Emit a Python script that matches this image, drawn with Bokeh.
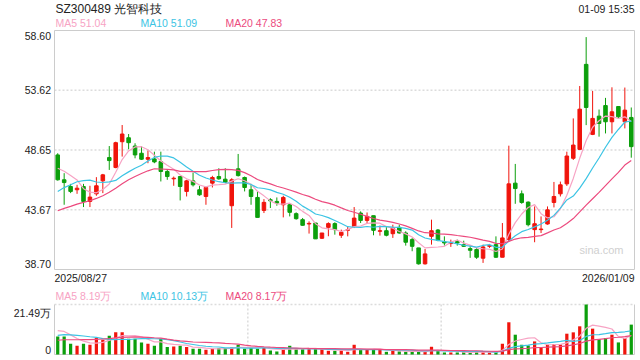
import numpy as np
import pandas as pd
from bokeh.plotting import figure
from bokeh.models import ColumnDataSource, Range1d
from bokeh.core.properties import value
from bokeh.embed import file_html
from bokeh.resources import INLINE

# ---------------- data ----------------
title_text = "SZ300489 光智科技"
time_text = "01-09 15:35"
start_date = "2025/08/27"
end_date = "2026/01/09"
price_ma_labels = ["MA5 51.04", "MA10 51.09", "MA20 47.83"]
vol_ma_labels = ["MA5 8.19万", "MA10 10.13万", "MA20 8.17万"]
price_ticks = [38.70, 43.67, 48.65, 53.62, 58.60]
vol_ticks = [0, 21.49]
vol_tick_labels = ["0", "21.49万"]

opens = [48.24, 46.17, 45.61, 45.34, 45.61, 44.37, 45.00, 46.08, 48.02, 47.19,
         49.34, 49.67, 48.98, 48.38, 47.88, 47.91, 47.69, 46.86, 46.25, 46.44,
         45.20, 46.08, 45.34, 44.78, 45.89, 46.44, 46.22, 44.01, 47.08, 46.36,
         45.34, 44.70, 43.62, 44.51, 44.37, 44.09, 44.09, 43.35, 42.85, 42.49,
         42.57, 41.30, 42.21, 42.52, 41.55, 41.96, 42.29, 43.40, 42.79, 43.18,
         41.88, 41.93, 41.68, 42.21, 41.74, 41.19, 40.50, 39.17, 41.46, 41.99,
         41.00, 40.86, 41.02, 40.77, 40.44, 40.36, 39.64, 40.63, 40.77, 39.72,
         41.19, 45.89, 45.00, 44.31, 42.02, 42.02, 42.49, 44.28, 45.00, 45.83,
         47.96, 48.70, 55.78, 49.95, 51.47, 52.35, 51.00, 52.27, 51.00, 51.36]
highs = [48.38, 46.72, 45.83, 45.75, 45.83, 45.67, 46.39, 46.66, 48.98, 49.34,
         50.73, 49.98, 49.21, 48.98, 48.60, 48.51, 48.51, 47.05, 46.44, 46.44,
         46.17, 46.77, 45.67, 45.61, 46.50, 47.13, 47.13, 46.30, 48.32, 46.44,
         45.83, 45.20, 44.56, 44.64, 44.70, 44.84, 44.23, 43.46, 42.99, 42.71,
         42.57, 41.74, 42.63, 42.63, 42.02, 42.29, 43.90, 43.54, 43.45, 43.18,
         42.35, 42.29, 42.43, 42.43, 41.88, 41.33, 40.50, 40.41, 42.85, 42.07,
         41.46, 41.19, 41.19, 41.10, 40.69, 40.50, 40.77, 40.83, 41.46, 42.57,
         49.01, 47.49, 45.28, 44.37, 43.95, 43.12, 43.95, 45.99, 46.02, 48.51,
         51.28, 53.98, 58.05, 53.57, 52.02, 52.99, 53.87, 52.30, 53.85, 52.19]
lows = [46.10, 44.09, 45.06, 45.00, 43.90, 43.90, 44.84, 45.06, 46.99, 47.13,
        48.10, 48.71, 47.96, 47.82, 47.55, 47.55, 46.03, 46.17, 45.67, 44.45,
        44.78, 45.61, 44.84, 44.09, 45.53, 46.17, 45.89, 42.16, 46.44, 45.20,
        44.09, 43.04, 43.40, 43.82, 44.01, 43.04, 43.12, 42.85, 42.35, 41.69,
        41.25, 41.25, 41.47, 41.60, 41.33, 41.46, 42.15, 42.57, 42.57, 41.55,
        41.52, 41.46, 41.33, 41.68, 40.69, 40.22, 39.11, 39.11, 40.77, 41.05,
        40.69, 40.58, 40.69, 40.58, 39.67, 39.58, 39.25, 40.50, 39.67, 39.72,
        41.05, 44.17, 44.17, 42.29, 40.97, 41.74, 42.43, 43.87, 44.78, 45.66,
        47.82, 48.65, 50.72, 49.89, 49.76, 50.03, 50.03, 51.28, 50.45, 48.01]
closes = [46.17, 45.94, 45.20, 45.47, 44.37, 44.73, 45.67, 46.58, 47.77, 49.26,
          49.98, 49.26, 48.24, 47.88, 48.02, 47.66, 46.86, 46.44, 46.30, 45.61,
          46.08, 45.75, 44.92, 45.53, 46.36, 46.25, 45.97, 46.17, 46.52, 45.53,
          44.78, 43.04, 44.29, 44.42, 44.23, 44.70, 43.46, 42.93, 42.38, 42.54,
          41.25, 41.74, 42.52, 42.02, 41.80, 42.02, 42.98, 42.79, 43.12, 41.96,
          41.93, 41.55, 42.15, 41.74, 40.97, 40.63, 39.17, 40.00, 41.93, 41.13,
          40.91, 40.91, 40.91, 40.63, 40.30, 39.72, 40.58, 40.69, 39.72, 41.33,
          45.83, 45.44, 44.28, 42.43, 42.51, 42.07, 43.67, 44.78, 45.75, 48.15,
          49.06, 52.05, 52.19, 51.28, 50.86, 51.00, 51.83, 51.41, 51.97, 48.93]
# volume in 万 (10k shares)
volumes = [7.79, 7.79, 4.62, 3.75, 4.62, 4.18, 7.07, 6.35, 8.08, 9.52,
           9.52, 6.78, 6.78, 5.19, 4.62, 3.75, 6.63, 3.17, 3.46, 3.75,
           3.17, 2.45, 2.45, 2.02, 2.45, 2.74, 2.74, 3.03, 4.18, 2.45,
           3.03, 2.45, 3.03, 1.73, 1.30, 2.31, 3.75, 2.31, 2.31, 2.31,
           2.31, 2.31, 1.59, 1.59, 1.73, 1.15, 4.18, 2.02, 2.02, 2.02,
           2.02, 1.15, 1.73, 1.30, 1.15, 1.30, 1.30, 1.30, 3.32, 1.59,
           0.87, 0.87, 0.87, 1.01, 0.87, 1.30, 1.01, 0.87, 1.15, 4.62,
           13.85, 8.51, 4.18, 3.89, 5.62, 3.03, 4.18, 4.47, 4.33, 8.94,
           9.52, 12.12, 21.49, 11.11, 6.63, 7.07, 8.51, 5.19, 7.07, 12.84]
# sessions before the visible window (estimated from where the MA lines start)
prior_close = [42.0, 41.9, 41.7, 41.6, 41.9, 41.8, 42.2, 42.0, 42.3, 42.5,
               42.7, 42.8, 43.0, 43.5, 44.3, 47.2, 47.0, 47.3, 48.0]
prior_volume = [3.5, 4.2, 3.8, 4.5, 3.9, 4.1, 3.6, 4.4, 4.0, 4.0,
                5.0, 5.5, 6.0, 7.0, 7.5, 9.5, 12.0, 11.5, 10.5]

# ---------------- styling / layout (pixels) ----------------
RED = "#f0140c"
GREEN = "#0c9f0c"
MA_COLORS = ["#f7a3c4", "#3cc4e4", "#ec4a7e"]
GRID = "#dcdcdc"
BORDER = "#cccccc"
FONT = "Liberation Sans"
TXT = "#222222"
FS = "10.5px"
W, H = 640, 360
FR_L, FR_R = 54, 634          # plot frame left/right
PR_T, PR_B = 30, 269          # price panel top/bottom
VO_T, VO_B = 304, 354         # volume panel top/bottom

n = len(closes)
xs = np.arange(n)
o = np.array(opens); c = np.array(closes)
up = c >= o
colors = [RED if u else GREEN for u in up]
npre = len(prior_close)

def ma(series, k):
    return pd.Series(series).rolling(k).mean().values[npre:]

full_c = list(prior_close) + list(closes)
full_v = list(prior_volume) + list(volumes)

x_lo, x_hi = -0.5, n - 0.5
y_lo, y_hi = price_ticks[0], price_ticks[-1]
v_lo, v_hi = vol_ticks[0], vol_ticks[1]

# ranges stretched so that the panels sit at the wanted pixel boxes of one canvas
xs_per_px = (x_hi - x_lo) / (FR_R - FR_L)
ys_per_px = (y_hi - y_lo) / (PR_B - PR_T)
vs_per_px = (v_hi - v_lo) / (VO_B - VO_T)
x_range = Range1d(x_lo - FR_L * xs_per_px, x_hi + (W - FR_R) * xs_per_px)
y_range = Range1d(y_lo - (H - PR_B) * ys_per_px, y_hi + PR_T * ys_per_px)
v_range = Range1d(v_lo - (H - VO_B) * vs_per_px, v_hi + VO_T * vs_per_px)

src = ColumnDataSource(dict(
    x=xs, high=highs, low=lows,
    top=np.maximum(o, c), bottom=np.minimum(o, c),
    color=colors, vol=volumes,
))

p = figure(width=W, height=H, x_range=x_range, y_range=y_range,
           x_axis_type=None, y_axis_type=None, toolbar_location=None,
           output_backend="svg", min_border=0)
p.extra_y_ranges = {"vol": v_range}
p.outline_line_color = None
p.background_fill_color = "white"
p.border_fill_color = "white"
p.xgrid.visible = False
p.ygrid.visible = False

# price panel: grid + border
mid = price_ticks[1:-1]
p.segment(x0=[x_lo] * len(mid), x1=[x_hi] * len(mid), y0=mid, y1=mid,
          line_color=GRID, line_dash="2 2", line_width=1.5)
p.quad(left=[x_lo], right=[x_hi], bottom=[y_lo], top=[y_hi],
       fill_color=None, line_color=BORDER, line_width=1)

# candles
p.segment(x0="x", y0="high", x1="x", y1="low", color="color", line_width=1, source=src)
p.vbar(x="x", width=0.55, top="top", bottom="bottom", fill_color="color",
       line_color="color", line_width=1, source=src)
for k, col in zip([5, 10, 20], MA_COLORS):
    p.line(xs, ma(full_c, k), line_color=col, line_width=1.2)

# volume panel: grid + border
thirds = [n / 3 - 0.5, 2 * n / 3 - 0.5]
p.segment(x0=thirds, x1=thirds, y0=[v_lo] * 2, y1=[v_hi] * 2, y_range_name="vol",
          line_color=GRID, line_dash="2 2", line_width=1.5)
p.segment(x0=[x_lo], x1=[x_hi], y0=[v_hi], y1=[v_hi], y_range_name="vol",
          line_color=GRID, line_dash="2 2", line_width=1.5)
p.segment(x0=[x_lo, x_hi, x_lo], x1=[x_lo, x_hi, x_hi], y0=[v_lo, v_lo, v_lo],
          y1=[v_hi, v_hi, v_lo], y_range_name="vol", line_color=BORDER, line_width=1)
p.vbar(x="x", width=0.5, top="vol", bottom=0, fill_color="color", line_color=None,
       source=src, y_range_name="vol")
for k, col in zip([5, 10, 20], MA_COLORS):
    p.line(xs, ma(full_v, k), line_color=col, line_width=1.2, y_range_name="vol")

# texts
def txt(x, y, text, xo=0, yo=0, align="left", color=TXT, size=FS, rng="default"):
    p.text(x=[x], y=[y], text=[text], x_offset=xo, y_offset=yo, text_align=align,
           text_baseline="middle", text_color=color, text_font=value(FONT),
           text_font_size=size, y_range_name=rng)

txt(x_lo, y_hi, title_text, 1, -22, size="12px")
txt(x_hi, y_hi, time_text, 0, -22, align="right")
for t, col, xo in zip(price_ma_labels, MA_COLORS, [1, 86, 171]):
    txt(x_lo, y_hi, t, xo, -8, color=col)
for i, t in enumerate(price_ticks):
    yo = 5 if i == len(price_ticks) - 1 else (-6 if i == 0 else 0)
    txt(x_lo, t, "%.2f" % t, -3.5, yo, align="right")
txt(x_lo, y_lo, start_date, 0, 8.5)
txt(x_hi, y_lo, end_date, 0, 8.5, align="right")
txt(x_hi, y_lo, "sina.com", -11, -20, align="right", color="#d0d0d0", size="11px")

for t, col, xo in zip(vol_ma_labels, MA_COLORS, [1, 86, 171]):
    txt(x_lo, v_hi, t, xo, -9, color=col, rng="vol")
txt(x_lo, v_hi, vol_tick_labels[1], -3.5, 8, align="right", rng="vol")
txt(x_lo, v_lo, vol_tick_labels[0], -3.5, -5, align="right", rng="vol")

open("out.html", "w").write(file_html(p, INLINE))
